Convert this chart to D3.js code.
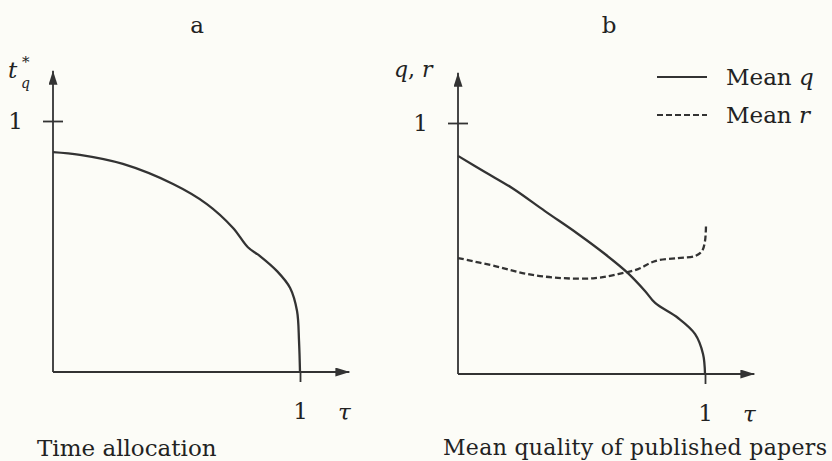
<!DOCTYPE html>
<html>
<head>
<meta charset="utf-8">
<script src="https://cdn.jsdelivr.net/npm/d3@7"></script>
<style>
body { margin: 0; background: #fcfcf7; }
svg { display: block; font-family: "DejaVu Serif", serif; }
text { fill: #222; }
.it { font-style: italic; }
</style>
</head>
<body>
<svg width="832" height="461"></svg>
<script>
// panel a: time allocation t_q* vs tau
const tauA = [0, 0.109, 0.283, 0.486, 0.623, 0.729, 0.789, 0.838, 0.907, 0.960, 0.988, 0.996, 1];
const timeAlloc = [0.876, 0.865, 0.829, 0.749, 0.669, 0.574, 0.497, 0.462, 0.402, 0.335, 0.243, 0.124, 0];

// panel b: mean q and mean r of published papers
const tauQ = [0, 0.109, 0.219, 0.352, 0.486, 0.595, 0.688, 0.757, 0.798, 0.891, 0.960, 0.992, 1];
const meanQ = [0.869, 0.805, 0.741, 0.649, 0.558, 0.478, 0.402, 0.331, 0.283, 0.223, 0.159, 0.080, 0];
const tauR = [0, 0.150, 0.283, 0.421, 0.555, 0.648, 0.729, 0.798, 0.891, 0.960, 0.988, 1.0, 1.004];
const meanR = [0.462, 0.430, 0.398, 0.382, 0.382, 0.398, 0.418, 0.450, 0.462, 0.470, 0.490, 0.530, 0.590];

const tickVals = [1];
const ink = "#333";

const svg = d3.select("svg");

svg.append("defs").append("marker")
    .attr("id", "arrow")
    .attr("viewBox", "0 0 14 9")
    .attr("refX", 14)
    .attr("refY", 4.5)
    .attr("markerUnits", "userSpaceOnUse")
    .attr("markerWidth", 14)
    .attr("markerHeight", 9)
    .attr("orient", "auto")
    .append("path")
    .attr("d", "M0,0 L14,4.5 L0,9 Z")
    .attr("fill", ink);

function panel(ox, oy, title, titleX) {
    const x = d3.scaleLinear([0, 1.2], [ox, ox + 1.2 * 247]);
    const y = d3.scaleLinear([0, 1.2], [oy, oy - 1.2 * 251]);

    // axis lines with arrows
    svg.append("line")
        .attr("x1", x(0)).attr("y1", y(0))
        .attr("x2", x(0)).attr("y2", y(1.2))
        .attr("stroke", ink).attr("stroke-width", 1.8)
        .attr("marker-end", "url(#arrow)");
    svg.append("line")
        .attr("x1", x(0)).attr("y1", y(0))
        .attr("x2", x(1.2)).attr("y2", y(0))
        .attr("stroke", ink).attr("stroke-width", 1.8)
        .attr("marker-end", "url(#arrow)");

    svg.append("g")
        .attr("transform", `translate(${x(0)},0)`)
        .call(d3.axisLeft(y).tickValues(tickVals).tickFormat(d3.format("d")).tickSize(10).tickPadding(20))
        .call(g => g.select(".domain").remove())
        .call(g => g.selectAll(".tick line").attr("x1", 10).attr("stroke", ink).attr("stroke-width", 1.8))
        .call(g => g.selectAll(".tick text").attr("font-size", 23).attr("font-family", "DejaVu Serif").attr("fill", "#222"));

    svg.append("g")
        .attr("transform", `translate(0,${y(0)})`)
        .call(d3.axisBottom(x).tickValues(tickVals).tickFormat(d3.format("d")).tickSize(10).tickPadding(21))
        .call(g => g.select(".domain").remove())
        .call(g => g.selectAll(".tick line").attr("stroke", ink).attr("stroke-width", 1.8))
        .call(g => g.selectAll(".tick text").attr("font-size", 23).attr("font-family", "DejaVu Serif").attr("fill", "#222"));

    svg.append("text")
        .attr("class", "it")
        .attr("x", x(1.18)).attr("y", y(0) + 48)
        .attr("text-anchor", "middle")
        .attr("font-size", 23)
        .text("τ");

    svg.append("text")
        .attr("x", titleX).attr("y", 33)
        .attr("text-anchor", "middle")
        .attr("font-size", 23)
        .text(title);

    return { x, y };
}

const line = (sx, sy) => d3.line()
    .x(d => sx(d[0]))
    .y(d => sy(d[1]))
    .curve(d3.curveCatmullRom.alpha(0.5));

// panel a
const a = panel(53, 372, "a", 197);
svg.append("path")
    .datum(d3.zip(tauA, timeAlloc))
    .attr("d", line(a.x, a.y))
    .attr("fill", "none")
    .attr("stroke", ink)
    .attr("stroke-width", 2.3);

svg.append("text").attr("class", "it").attr("x", 8).attr("y", 78).attr("font-size", 23).text("t");
svg.append("text").attr("x", 22).attr("y", 67).attr("font-size", 15).text("*");
svg.append("text").attr("class", "it").attr("x", 21).attr("y", 88).attr("font-size", 14).text("q");

svg.append("text")
    .attr("x", 37).attr("y", 456)
    .attr("font-size", 23)
    .text("Time allocation");

// panel b
const b = panel(458, 374, "b", 609);
svg.append("path")
    .datum(d3.zip(tauQ, meanQ))
    .attr("d", line(b.x, b.y))
    .attr("fill", "none")
    .attr("stroke", ink)
    .attr("stroke-width", 2.3);
svg.append("path")
    .datum(d3.zip(tauR, meanR))
    .attr("d", line(b.x, b.y))
    .attr("fill", "none")
    .attr("stroke", ink)
    .attr("stroke-width", 2.3)
    .attr("stroke-dasharray", "6,3");

const qr = svg.append("text").attr("x", 394).attr("y", 77).attr("font-size", 22);
qr.append("tspan").attr("class", "it").text("q");
qr.append("tspan").text(", ");
qr.append("tspan").attr("class", "it").text("r");

svg.append("text")
    .attr("x", 443).attr("y", 455)
    .attr("font-size", 22)
    .attr("textLength", 384)
    .text("Mean quality of published papers");

// legend
const legend = [
    { name: "q", dash: null, y: 77 },
    { name: "r", dash: "6,3", y: 115 }
];
legend.forEach(d => {
    svg.append("line")
        .attr("x1", 657).attr("x2", 707)
        .attr("y1", d.y).attr("y2", d.y)
        .attr("stroke", ink).attr("stroke-width", 2)
        .attr("stroke-dasharray", d.dash);
    const t = svg.append("text")
        .attr("x", 726).attr("y", d.y + 8)
        .attr("font-size", 23);
    t.append("tspan").text("Mean ");
    t.append("tspan").attr("class", "it").text(d.name);
});
</script>
</body>
</html>
